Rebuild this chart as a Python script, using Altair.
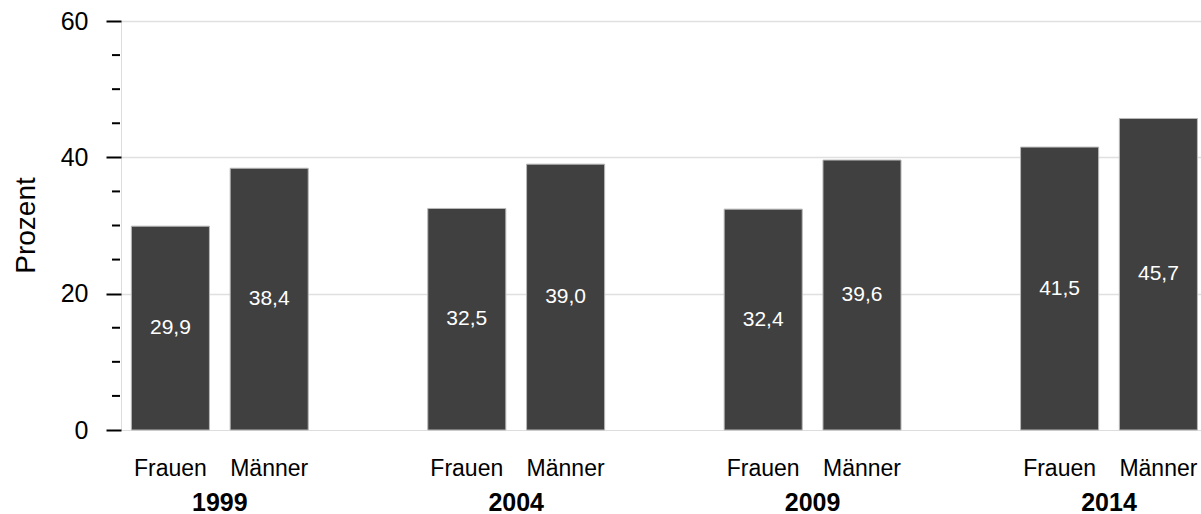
import altair as alt
import pandas as pd

# Anteile in Prozent je Erhebungsjahr
years = ["1999", "2004", "2009", "2014"]
genders = ["Frauen", "Männer"]
frauen = [29.9, 32.5, 32.4, 41.5]
maenner = [38.4, 39.0, 39.6, 45.7]

# Achsenteilung: beschriftete Haupt- und kurze Zwischenstriche
major_ticks = [0, 20, 40, 60]
minor_ticks = [5, 10, 15, 25, 30, 35, 45, 50, 55]

rows = []
for i, yr in enumerate(years):
    rows.append({"Jahr": yr, "Geschlecht": "Frauen", "Prozent": frauen[i]})
    rows.append({"Jahr": yr, "Geschlecht": "Männer", "Prozent": maenner[i]})
df = pd.DataFrame(rows)
minor_df = pd.DataFrame({"wert": minor_ticks})

FONT = "Liberation Sans"
W, H = 1080, 409
GROUP_STEP = 296.4

x_scale = alt.Scale(domain=years, range=[0, GROUP_STEP * 4 - GROUP_STEP / 3],
                    paddingInner=1 / 3, paddingOuter=0)
off_scale = alt.Scale(domain=genders, paddingInner=0.21, paddingOuter=0.105)
y_scale = alt.Scale(domain=[0, 60], nice=False)

x_enc = alt.X(
    "Jahr:N", scale=x_scale, sort=years, title=None,
    axis=alt.Axis(labelAngle=0, labelFontSize=25, labelFontWeight="bold",
                  labelColor="black", labelFont=FONT, ticks=False, domain=False,
                  grid=False, labelPadding=60),
)
off_enc = alt.XOffset("Geschlecht:N", scale=off_scale, sort=genders)

y_axis = alt.Axis(
    values=major_ticks,
    tickSize=15, tickWidth=2, tickColor="black",
    grid=True,
    gridColor={"condition": {"test": "datum.value > 0", "value": "#e0e0e0"},
               "value": "transparent"},
    gridWidth=1.5,
    domain=False,
    labelFontSize=25, labelColor="black", labelFont=FONT, labelPadding=18,
    title="Prozent", titleFontSize=28, titleFontWeight="normal", titleColor="black",
    titleFont=FONT, titleX=-95, titleY=204, titleAlign="center", titleBaseline="middle",
    titleAngle=270,
)

base = alt.Chart(df).encode(x=x_enc, xOffset=off_enc)

bars = base.mark_bar(color="#404040", stroke="#b8b8b8", strokeWidth=1).encode(
    y=alt.Y("Prozent:Q", scale=y_scale, axis=y_axis)
)

values = base.transform_calculate(
    mitte="datum.Prozent / 2",
    wert="replace(format(datum.Prozent, '.1f'), '.', ',')",
).mark_text(color="white", fontSize=21, font=FONT, baseline="middle").encode(
    y=alt.Y("mitte:Q", scale=y_scale),
    text="wert:N",
)

gender_labels = base.mark_text(fontSize=23, font=FONT, color="black",
                               baseline="middle").encode(
    y=alt.value(H + 39),
    text="Geschlecht:N",
)

minor = alt.Chart(minor_df).mark_rule(color="black", strokeWidth=2).encode(
    y=alt.Y("wert:Q", scale=y_scale),
    x=alt.value(-9),
    x2=alt.value(-1),
)

chart = alt.layer(bars, values, gender_labels, minor).properties(
    width=W, height=H,
    autosize="none",
    padding={"left": 121, "top": 21, "right": 0, "bottom": 84},
).configure_view(stroke=None).configure(font=FONT)

chart.save("out.html", embed_options={"renderer": "svg", "actions": False})
